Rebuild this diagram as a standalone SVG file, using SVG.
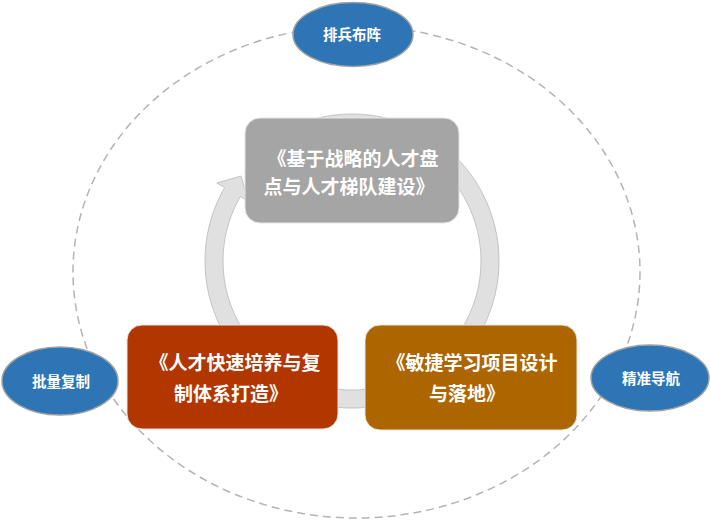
<svg xmlns="http://www.w3.org/2000/svg" width="711" height="524" viewBox="0 0 711 524">
<style>
.orbit{fill:none;stroke:#b4b4b4;stroke-width:1.5;stroke-dasharray:8 5}
.ring{fill:#e0e0e0;stroke:#c4c4c4;stroke-width:1}
.box{stroke:#e4e4e4;stroke-width:1}
.oval{fill:#2e75b6;stroke:#a0a0a0;stroke-width:1.5}
.bt{font-family:"Noto Sans CJK SC","Noto Sans",sans-serif;font-weight:bold;font-size:19px;fill:#ffffff;text-anchor:middle}
.ot{font-family:"Noto Sans CJK SC","Noto Sans",sans-serif;font-weight:bold;font-size:14.5px;fill:#ffffff;text-anchor:middle}
</style>
<rect width="711" height="524" fill="#ffffff"/>
<g id="connectors">
<ellipse class="orbit" cx="356.5" cy="272" rx="283.5" ry="246"/>
<path class="ring" d="M 301.7 122.9 A 147 147 0 1 1 224.7 187.5 L 216.9 183 L 241 176 L 248.1 201 L 240.3 196.5 A 129 129 0 1 0 307.9 139.8 Z"/>
</g>
<g id="node-top">
<rect class="box" x="245" y="118" width="214" height="105" rx="15" fill="#a5a5a5"/>
<text class="bt" x="353" y="166">《基于战略的人才盘</text>
<text class="bt" x="349" y="193.5">点与人才梯队建设》</text>
</g>
<g id="node-left">
<rect class="box" x="127" y="325" width="211" height="104" rx="15" fill="#b23600"/>
<text class="bt" x="235" y="370">《人才快速培养与复</text>
<text class="bt" x="231" y="401">制体系打造》</text>
</g>
<g id="node-right">
<rect class="box" x="365" y="325" width="212" height="105" rx="15" fill="#ad6500"/>
<text class="bt" x="472" y="370">《敏捷学习项目设计</text>
<text class="bt" x="467" y="401">与落地》</text>
</g>
<g id="oval-top">
<ellipse class="oval" cx="353" cy="34.5" rx="60" ry="32"/>
<text class="ot" x="352" y="40">排兵布阵</text>
</g>
<g id="oval-left">
<ellipse class="oval" cx="60" cy="381" rx="58" ry="34"/>
<text class="ot" x="61" y="387">批量复制</text>
</g>
<g id="oval-right">
<ellipse class="oval" cx="650" cy="378" rx="59" ry="33"/>
<text class="ot" x="651" y="384">精准导航</text>
</g>
</svg>
